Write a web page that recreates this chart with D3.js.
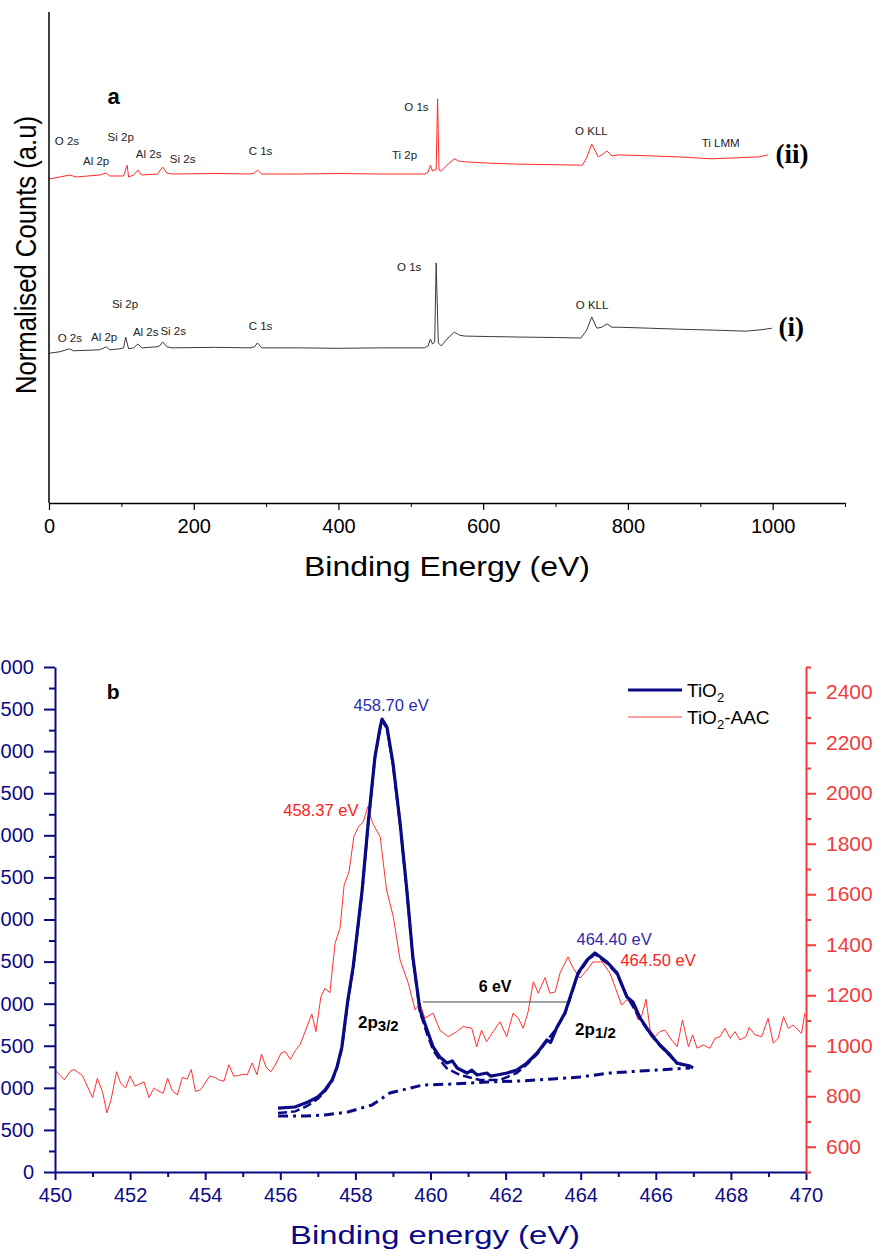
<!DOCTYPE html>
<html>
<head>
<meta charset="utf-8">
<script src="https://cdn.jsdelivr.net/npm/d3@7"></script>
<style>
  body { margin: 0; background: #fff; }
  svg { display: block; }
</style>
</head>
<body>
<script>
// ---------- panel a : survey spectra, [binding energy eV, normalised counts]
const survey_ii = [[0,66.0],[15,66.4],[29,66.8],[37,66.4],[70,66.8],[79,67.2],[84,66.6],[98,66.6],[103,66.6],[108,68.8],[110,66.4],[117,66.8],[123,67.8],[128,66.8],[150,67.0],[157,68.4],[163,67.2],[170,67.0],[230,67.1],[277,67.0],[284,67.2],[288,67.8],[294,67.0],[346,67.0],[400,67.1],[457,67.0],[519,67.0],[524,67.4],[527,68.8],[530,67.6],[532,67.8],[535,67.9],[537,82.3],[539,67.8],[542,67.6],[550,68.8],[560,70.1],[567,69.6],[574,69.5],[610,69.2],[650,69.0],[700,68.9],[737,68.8],[743,70.3],[750,73.1],[759,70.5],[764,70.9],[771,71.7],[778,70.7],[788,70.9],[830,70.7],[870,70.5],[916,70.1],[950,70.3],[981,70.5],[994,70.9]]
const survey_i = [[0,30.5],[15,30.8],[28,31.4],[34,31.0],[70,31.2],[79,31.8],[84,31.2],[98,31.4],[103,31.6],[106,33.8],[110,31.4],[117,31.6],[123,32.4],[128,31.6],[148,31.8],[153,32.0],[157,32.8],[163,31.8],[170,31.6],[230,31.7],[277,31.6],[284,31.8],[288,32.6],[294,31.6],[346,31.6],[400,31.5],[457,31.6],[519,31.6],[524,32.0],[527,33.4],[530,32.4],[532,32.6],[533,32.8],[535,48.9],[538,32.6],[542,32.0],[550,33.4],[560,34.8],[567,34.2],[574,34.0],[610,33.9],[650,33.8],[700,33.7],[735,33.6],[743,35.2],[750,37.9],[757,35.6],[764,35.8],[771,36.5],[778,35.8],[788,35.8],[830,35.6],[870,35.4],[920,35.2],[963,35.0],[985,35.3],[999,35.6]]

// peak names: [text, eV, counts] (left edge / baseline of label)
const labels_ii = [["O 2s",8,72.9],["Si 2p",81,73.7],["Al 2p",47,68.8],["Al 2s",120,70.3],["Si 2s",167,69.2],["C 1s",276,70.9],["O 1s",491,79.8],["Ti 2p",474,70.1],["O KLL",727,74.9],["Ti LMM",902,72.5]]
const labels_i = [["Si 2p",87,39.7],["O 2s",12,32.8],["Al 2p",58,33.0],["Al 2s",116,34.0],["Si 2s",154,34.2],["C 1s",276,35.2],["O 1s",481,47.3],["O KLL",728,39.5]]
const surveyTicks = [0, 200, 400, 600, 800, 1000]
const surveyMinor = [100, 300, 500, 700, 900, 1100]

// ---------- panel b : Ti 2p region
// TiO2 (left axis, counts)
const tio2 = [[455.94,760],[456.39,772],[456.74,832],[457.0,891],[457.19,974],[457.38,1093],[457.51,1247],[457.64,1485],[457.72,1770],[457.8,2043],[457.94,2435],[458.18,3350],[458.34,4146],[458.52,4930],[458.66,5287],[458.71,5382],[458.84,5287],[459.0,4859],[459.19,4146],[459.37,3350],[459.53,2554],[459.72,1925],[459.91,1687],[460.07,1485],[460.25,1366],[460.44,1295],[460.58,1320],[460.71,1236],[460.97,1176],[461.1,1210],[461.24,1152],[461.5,1176],[461.6,1140],[461.77,1152],[462.04,1176],[462.3,1212],[462.57,1295],[462.84,1414],[463.1,1568],[463.2,1540],[463.37,1723],[463.58,1889],[463.93,2364],[464.17,2519],[464.38,2602],[464.7,2495],[464.97,2364],[465.23,2079],[465.39,2020],[465.58,1830],[465.85,1651],[466.11,1509],[466.38,1390],[466.56,1295],[466.91,1259],[466.99,1236]]
const tio2Envelope = [[455.94,700],[456.4,720],[456.74,790],[457.0,870],[457.19,960],[457.38,1080],[457.51,1240],[457.64,1470],[457.8,2030],[457.94,2420],[458.18,3330],[458.34,4130],[458.52,4920],[458.66,5270],[458.71,5360],[458.84,5270],[459.0,4840],[459.19,4130],[459.37,3340],[459.53,2540],[459.72,1900],[459.91,1640],[460.07,1450],[460.25,1331],[460.44,1230],[460.79,1152],[461.32,1093],[461.85,1093],[462.3,1176],[462.57,1280],[462.84,1400],[463.1,1560],[463.37,1715],[463.58,1880],[463.93,2350],[464.17,2505],[464.38,2590],[464.7,2480],[464.97,2350],[465.23,2090],[465.58,1820],[465.85,1640],[466.11,1500],[466.38,1380],[466.56,1290],[466.91,1250],[466.99,1240]]
const tio2Background = [[455.94,665],[456.66,665],[457.19,677],[457.8,713],[458.44,796],[458.92,939],[459.8,1034],[460.6,1045],[461.5,1069],[462.38,1081],[463.26,1105],[463.98,1129],[464.78,1176],[466.03,1212],[466.91,1236]]
// TiO2-AAC (right axis, counts)
const tio2aac = [[450.03,899],[450.25,865],[450.42,901],[450.51,906],[450.73,882],[451.0,795],[451.13,871],[451.27,815],[451.38,734],[451.49,784],[451.64,897],[451.75,851],[451.88,833],[452.0,880],[452.13,840],[452.37,857],[452.5,795],[452.64,833],[452.77,819],[452.88,812],[453.0,871],[453.12,823],[453.26,805],[453.39,875],[453.52,868],[453.63,906],[453.74,819],[453.88,826],[454.12,880],[454.25,875],[454.36,865],[454.5,860],[454.63,925],[454.76,880],[454.89,882],[455.0,887],[455.12,885],[455.25,932],[455.38,885],[455.5,967],[455.62,915],[455.75,897],[455.88,928],[456.02,971],[456.13,977],[456.27,946],[456.4,981],[456.53,1005],[456.84,1126],[456.95,1056],[457.08,1194],[457.19,1227],[457.32,1210],[457.46,1406],[457.59,1465],[457.7,1637],[457.83,1689],[457.96,1828],[458.08,1867],[458.21,1887],[458.33,1947],[458.46,1881],[458.66,1828],[458.83,1617],[459.01,1511],[459.19,1340],[459.41,1247],[459.59,1142],[459.72,1168],[459.85,1109],[460.07,1129],[460.25,1062],[460.47,1036],[460.7,1056],[460.87,1076],[461.1,1069],[461.23,996],[461.36,1062],[461.49,1016],[461.67,1056],[461.85,1095],[462.03,1036],[462.2,1129],[462.34,1109],[462.47,1069],[462.6,1135],[462.74,1254],[462.87,1208],[463.05,1270],[463.18,1208],[463.32,1213],[463.45,1288],[463.66,1352],[463.8,1307],[463.98,1268],[464.17,1300],[464.33,1332],[464.57,1332],[464.78,1288],[465.09,1161],[465.22,1181],[465.36,1174],[465.53,1102],[465.62,1115],[465.74,1184],[465.85,1062],[465.98,1036],[466.11,1056],[466.24,1062],[466.42,1023],[466.57,996],[466.71,1102],[466.87,996],[466.98,1043],[467.1,990],[467.26,1003],[467.44,990],[467.58,1030],[467.71,1036],[467.84,1069],[467.98,1030],[468.11,1056],[468.24,1023],[468.4,1036],[468.49,1073],[468.64,1043],[468.82,1036],[468.99,1109],[469.13,1010],[469.26,1030],[469.4,1115],[469.53,1069],[469.66,1082],[469.88,1049],[469.97,1129]]

const energyTicks = [450, 452, 454, 456, 458, 460, 462, 464, 466, 468, 470]
const energyMinor = [451, 453, 455, 457, 459, 461, 463, 465, 467, 469]
const leftTicks = [0, 500, 1000, 1500, 2000, 2500, 3000, 3500, 4000, 4500, 5000, 5500, 6000]
const leftMinor = [250, 750, 1250, 1750, 2250, 2750, 3250, 3750, 4250, 4750, 5250, 5750]
const rightTicks = [600, 800, 1000, 1200, 1400, 1600, 1800, 2000, 2200, 2400]
const rightMinor = [500, 700, 900, 1100, 1300, 1500, 1700, 1900, 2100, 2300, 2500]

// peak positions: [text, eV, counts, axis, colour]
const peakNotes = [["458.70 eV", 458.95, 5480, "L", "#2b2bb0"], ["458.37 eV", 457.08, 1910, "R", "#ff2020"],
                   ["464.40 eV", 464.89, 2700, "L", "#2b2bb0"], ["464.50 eV", 466.06, 1316, "R", "#ff2020"]]
const splitting = [459.8, 463.66, 2020]

const navy = "#0a0a86"
const red = "#f03c3c"
const sans = "Liberation Sans, Arial, sans-serif"
const serif = "Liberation Serif, Times New Roman, serif"
const fmt = d3.format("d")

const svg = d3.select("body").append("svg")
  .attr("width", 885)
  .attr("height", 1252)
  .attr("font-family", sans)

// ================= panel a
const xA = d3.scaleLinear().domain([0, 1100]).range([49, 845])
const yA = d3.scaleLinear().domain([0, 100]).range([503, 12])
const lineA = d3.line().x(d => xA(d[0])).y(d => yA(d[1]))

svg.append("path").datum(survey_i)
  .attr("d", lineA).attr("fill", "none").attr("stroke", "#3a3a3a").attr("stroke-width", 1)
svg.append("path").datum(survey_ii)
  .attr("d", lineA).attr("fill", "none").attr("stroke", "#ff2a2a").attr("stroke-width", 1)

svg.append("line")
  .attr("x1", xA(0)).attr("x2", xA(0)).attr("y1", yA(100)).attr("y2", yA(0))
  .attr("stroke", "#000").attr("stroke-width", 1.5)

const axA = svg.append("g")
  .attr("transform", `translate(0,${yA(0)})`)
  .call(d3.axisBottom(xA).tickValues(surveyTicks).tickFormat(fmt).tickSize(7).tickSizeOuter(0).tickPadding(9))
  .attr("font-size", 20).attr("font-family", sans)
axA.select(".domain").attr("stroke-width", 1.5)
axA.selectAll("line").attr("stroke-width", 1.2)
svg.append("g")
  .attr("transform", `translate(0,${yA(0)})`)
  .call(d3.axisBottom(xA).tickValues(surveyMinor).tickSize(4).tickFormat(""))
  .call(g => g.select(".domain").remove())

svg.append("text")
  .attr("x", 447).attr("y", 576)
  .attr("text-anchor", "middle").attr("font-size", 27)
  .attr("textLength", 286).attr("lengthAdjust", "spacingAndGlyphs")
  .text("Binding Energy (eV)")

svg.append("text")
  .attr("transform", "translate(36,255) rotate(-90)")
  .attr("text-anchor", "middle").attr("font-size", 30)
  .attr("textLength", 278).attr("lengthAdjust", "spacingAndGlyphs")
  .text("Normalised Counts (a.u)")

const addLabels = (list, color) => {
  svg.append("g").selectAll("text")
    .data(list).join("text")
    .attr("x", d => xA(d[1])).attr("y", d => yA(d[2]))
    .attr("font-size", 11.5).attr("fill", color)
    .attr("stroke", "#fff").attr("stroke-width", 3).attr("paint-order", "stroke")
    .text(d => d[0])
}
addLabels(labels_ii, "#222")
addLabels(labels_i, "#222")

svg.append("text").attr("x", xA(81)).attr("y", yA(81.3))
  .attr("font-size", 22).attr("font-weight", "bold").text("a")
svg.append("text").attr("x", xA(1004)).attr("y", yA(69.2))
  .attr("font-size", 27).attr("font-weight", "bold")
  .attr("font-family", serif).text("(ii)")
svg.append("text").attr("x", xA(1008)).attr("y", yA(34.0))
  .attr("font-size", 27).attr("font-weight", "bold")
  .attr("font-family", serif).text("(i)")

// ================= panel b
const xB = d3.scaleLinear().domain([450, 470]).range([55, 806])
const yL = d3.scaleLinear().domain([0, 6000]).range([1172, 667])
const yR = d3.scaleLinear().domain([500, 2500]).range([1172, 667])
const lineL = d3.line().x(d => xB(d[0])).y(d => yL(d[1]))
const lineR = d3.line().x(d => xB(d[0])).y(d => yR(d[1]))

svg.append("path").datum(tio2aac)
  .attr("d", lineR).attr("fill", "none").attr("stroke", "#ff3030").attr("stroke-width", 1)
svg.append("path").datum(tio2Background)
  .attr("d", lineL).attr("fill", "none").attr("stroke", navy).attr("stroke-width", 3)
  .attr("stroke-dasharray", "10,5,3,5")
svg.append("path").datum(tio2Envelope)
  .attr("d", lineL).attr("fill", "none").attr("stroke", navy).attr("stroke-width", 2.5)
  .attr("stroke-dasharray", "9,4")
svg.append("path").datum(tio2)
  .attr("d", lineL).attr("fill", "none").attr("stroke", navy).attr("stroke-width", 3.2)
  .attr("stroke-linejoin", "round")

// spin-orbit splitting marker
svg.append("line")
  .attr("x1", xB(splitting[0])).attr("x2", xB(splitting[1]))
  .attr("y1", yL(splitting[2])).attr("y2", yL(splitting[2]))
  .attr("stroke", "#444").attr("stroke-width", 1)
svg.append("text").attr("x", xB(461.72)).attr("y", yL(2140))
  .attr("text-anchor", "middle").attr("font-size", 16).attr("font-weight", "bold").text("6 eV")

const orb = (txt, e, v) => {
  const t = svg.append("text").attr("x", xB(e)).attr("y", yL(v))
    .attr("font-size", 17).attr("font-weight", "bold")
  t.append("tspan").text("2p")
  t.append("tspan").attr("dy", 3).attr("font-size", 15).text(txt)
}
orb("3/2", 458.07, 1711)
orb("1/2", 463.85, 1628)

svg.append("g").selectAll("text")
  .data(peakNotes).join("text")
  .attr("x", d => xB(d[1]))
  .attr("y", d => d[3] === "L" ? yL(d[2]) : yR(d[2]))
  .attr("text-anchor", "middle").attr("font-size", 16.5).attr("fill", d => d[4])
  .text(d => d[0])

svg.append("text").attr("x", xB(451.38)).attr("y", yL(5620))
  .attr("font-size", 21).attr("font-weight", "bold").text("b")

// axes
const axL = svg.append("g")
  .attr("transform", `translate(${xB(450)},0)`)
  .call(d3.axisLeft(yL).tickValues(leftTicks).tickFormat(fmt).tickSize(11).tickPadding(10).tickSizeOuter(0))
  .attr("font-size", 20).attr("font-family", sans)
axL.selectAll("line, path").attr("stroke", navy).attr("stroke-width", 2)
axL.selectAll("text").attr("fill", navy)
svg.append("g")
  .attr("transform", `translate(${xB(450)},0)`)
  .call(d3.axisLeft(yL).tickValues(leftMinor).tickSize(6).tickFormat(""))
  .call(g => g.select(".domain").remove())
  .selectAll("line").attr("stroke", navy).attr("stroke-width", 2)

const axX = svg.append("g")
  .attr("transform", `translate(0,${yL(0)})`)
  .call(d3.axisBottom(xB).tickValues(energyTicks).tickFormat(fmt).tickSize(8).tickPadding(8).tickSizeOuter(0))
  .attr("font-size", 20).attr("font-family", sans)
axX.selectAll("line, path").attr("stroke", navy).attr("stroke-width", 2)
axX.selectAll("text").attr("fill", navy)
svg.append("g")
  .attr("transform", `translate(0,${yL(0)})`)
  .call(d3.axisBottom(xB).tickValues(energyMinor).tickSize(5).tickFormat(""))
  .call(g => g.select(".domain").remove())
  .selectAll("line").attr("stroke", navy).attr("stroke-width", 2)

const axR = svg.append("g")
  .attr("transform", `translate(${xB(470)},0)`)
  .call(d3.axisRight(yR).tickValues(rightTicks).tickFormat(fmt).tickSize(10).tickPadding(10).tickSizeOuter(0))
  .attr("font-size", 21).attr("font-family", sans)
axR.selectAll("line, path").attr("stroke", red).attr("stroke-width", 2)
axR.selectAll("text").attr("fill", red)
svg.append("g")
  .attr("transform", `translate(${xB(470)},0)`)
  .call(d3.axisRight(yR).tickValues(rightMinor).tickSize(5).tickFormat(""))
  .call(g => g.select(".domain").remove())
  .selectAll("line").attr("stroke", red).attr("stroke-width", 2)

svg.append("text")
  .attr("x", 435).attr("y", 1244)
  .attr("text-anchor", "middle").attr("font-size", 26).attr("fill", navy)
  .attr("textLength", 290).attr("lengthAdjust", "spacingAndGlyphs")
  .text("Binding energy (eV)")

// legend
const legend = svg.append("g").attr("transform", "translate(628,690)")
legend.append("line").attr("x2", 54).attr("stroke", navy).attr("stroke-width", 3)
legend.append("line").attr("x2", 54).attr("y1", 27).attr("y2", 27).attr("stroke", "#ff8080").attr("stroke-width", 1.5)
const lt1 = legend.append("text").attr("x", 59).attr("y", 7).attr("font-size", 19)
lt1.append("tspan").text("TiO")
lt1.append("tspan").attr("dy", 5).attr("font-size", 13).text("2")
const lt2 = legend.append("text").attr("x", 59).attr("y", 34).attr("font-size", 19)
lt2.append("tspan").text("TiO")
lt2.append("tspan").attr("dy", 5).attr("font-size", 13).text("2")
lt2.append("tspan").attr("dy", -5).text("-AAC")
</script>
</body>
</html>
